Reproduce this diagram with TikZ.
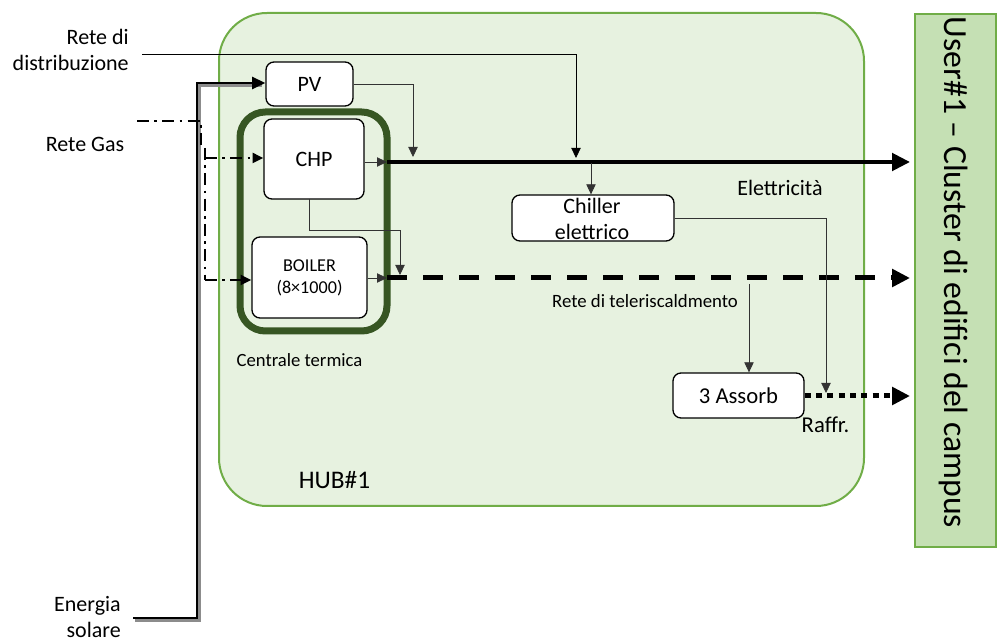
\documentclass[tikz,border=0pt]{standalone}
\usepackage{fontspec}
\setmainfont{Carlito}
\usetikzlibrary{arrows.meta}
\definecolor{hubfill}{HTML}{E7F2E0}
\definecolor{hubline}{HTML}{70AD47}
\definecolor{userfill}{HTML}{C5E0B4}
\definecolor{plantgreen}{HTML}{375623}
\tikzset{
  box/.style={draw=black, line width=1pt, fill=white, rounded corners=6pt, inner sep=0pt},
  lbl/.style={inner sep=0pt, align=center, font=\fontsize{16.5}{19.5}\selectfont},
  small/.style={inner sep=0pt, align=center, font=\fontsize{14}{17}\selectfont},
  thin/.style={line width=0.6pt, black!80, -{Triangle[length=7.5pt,width=7pt]}},
  bigtip/.style={-{Triangle[length=13.5pt,width=13pt]}},
  elec/.style={line width=3pt, bigtip},
  heat/.style={line width=3.75pt, dash pattern=on 15pt off 12pt, bigtip},
  cool/.style={line width=3.75pt, dash pattern=on 4.5pt off 4pt, bigtip},
  gas/.style={line width=1.5pt, dash pattern=on 9pt off 4pt on 2pt off 4pt},
}
\begin{document}
\begin{tikzpicture}[x=0.75pt, y=-0.75pt]
\useasboundingbox (0,0) rectangle (997,641);

% energy hub and user block
\draw[fill=hubfill, draw=hubline, line width=1.5pt, rounded corners=36pt]
  (219,13) rectangle (864,506);
\node[draw=hubline, fill=userfill, line width=2pt, inner sep=0pt,
      minimum width=81*0.75pt, minimum height=533*0.75pt] (user) at (955.5,280.5) {};
\node[rotate=-90, inner sep=0pt, font=\fontsize{25.3}{30}\selectfont] (usertxt) at (953,272.5)
  {User\#1 – Cluster di edifici del campus};

% thermal plant frame
\draw[draw=plantgreen, line width=5.25pt, rounded corners=19pt]
  (240,112) rectangle (387,331);

% conversion units
\node[box, minimum width=87*0.75pt, minimum height=44*0.75pt] (pv) at (309.5,84)
  {\fontsize{16.5}{19.5}\selectfont PV};
\node[box, minimum width=100*0.75pt, minimum height=80*0.75pt] (chp) at (314,159)
  {\fontsize{16.5}{19.5}\selectfont CHP};
\node[box, minimum width=115*0.75pt, minimum height=81*0.75pt, align=center,
      font=\fontsize{13.6}{16.5}\selectfont] (boiler) at (309.5,277.5)
  {BOILER\\(8×1000)};
\node[box, minimum width=162*0.75pt, minimum height=46*0.75pt] (chiller) at (593,218) {};
\node[lbl, font=\fontsize{16.5}{19.5}\selectfont] (chillertxt) at (592,219) {Chiller\\elettrico};
\node[box, minimum width=131*0.75pt, minimum height=45*0.75pt] (assorb) at (738.5,395.5)
  {\fontsize{17}{20}\selectfont 3 Assorb};

% external labels
\node[lbl, align=right, anchor=east] (retedist) at (129,50) {Rete di\\distribuzione};
\node[lbl] (retegas) at (85,144) {Rete Gas};
\node[lbl, align=right, anchor=east] (solare) at (121,617) {Energia\\solare};
\node[lbl, font=\fontsize{16.5}{19.5}\selectfont] (elet) at (780,188) {Elettricità};
\node[small, font=\fontsize{14.1}{17}\selectfont] (telerisc) at (645,301) {Rete di teleriscaldmento};
\node[small, font=\fontsize{17}{20}\selectfont] (raffr) at (825.5,425) {Raffr.};
\node[small] (centrale) at (299.5,360) {Centrale termica};
\node[lbl, font=\fontsize{19}{23}\selectfont] (hub) at (334.5,480) {HUB\#1};

% carrier lines towards the user
\coordinate (elS) at (387,162);
\coordinate (elE) at (910,162);
\coordinate (htS) at (387,278);
\coordinate (htE) at (910,278);
\coordinate (clE) at (910,396);
\draw[elec] (elS) -- (elE);
\draw[heat] (htS) -- (htE);
\draw[cool] (assorb.east |- clE) -- (clE);

% solar input (shaded double line)
\coordinate (solS) at (133,618);
\coordinate (solB) at (197,618);
\coordinate (solT) at (197,83);
\draw[black!45, line width=1.8pt] ([shift={(2,2.5)}]solS) -- ([shift={(2.5,2.5)}]solB) -- ([shift={(2.5,2.5)}]solT) -- (262,85.5);
\draw[line width=2.2pt, -{Triangle[length=10pt,width=9pt]}] (solS) -- (solB) -- (solT) -- (solT -| pv.west);

% grid input
\coordinate (distS) at (142,54);
\coordinate (distD) at (576,54);
\coordinate (distE) at (576,158);
\draw[line width=0.6pt, -{Triangle[length=7.5pt,width=7pt]}] (distS) -- (distD) -- (distE);

% gas input
\coordinate (gasS) at (137,121);
\coordinate (gasC) at (201,121);
\coordinate (gasJ) at (201,148);
\coordinate (gasK) at (205,148);
\coordinate (gasM) at (205,158);
\coordinate (gasB) at (205,280);
\draw[gas] (gasS) -- (gasC) -- (gasJ);
\draw[gas] (gasK) -- (gasB);
\draw[gas, -{Triangle[length=8pt,width=7.5pt]}] (gasM) -- (gasM -| chp.west);
\draw[gas, -{Triangle[length=8pt,width=7.5pt]}] (gasB) -- (gasB -| boiler.west);

% internal flows
\coordinate (pvK) at (413,84);
\coordinate (pvE) at (413,157);
\coordinate (chpA) at (309,199);
\coordinate (chpB) at (309,230);
\coordinate (chpC) at (400,230);
\coordinate (chpD) at (400,275);
\coordinate (chS) at (591,163);
\coordinate (cwK) at (826,218);
\coordinate (cwE) at (826,393);
\coordinate (abS) at (749,284);
\draw[thin] (pv.east) -- (pvK) -- (pvE);
\draw[thin] (elS -| chp.east) -- (elS);
\draw[thin] (htS -| boiler.east) -- (htS);
\draw[thin] (chpA) -- (chpB) -- (chpC) -- (chpD);
\draw[thin] (chS) -- (chS |- chiller.north);
\draw[thin] (chiller.east) -- (cwK) -- (cwE);
\draw[thin] (abS) -- (abS |- assorb.north);
\end{tikzpicture}
\end{document}
